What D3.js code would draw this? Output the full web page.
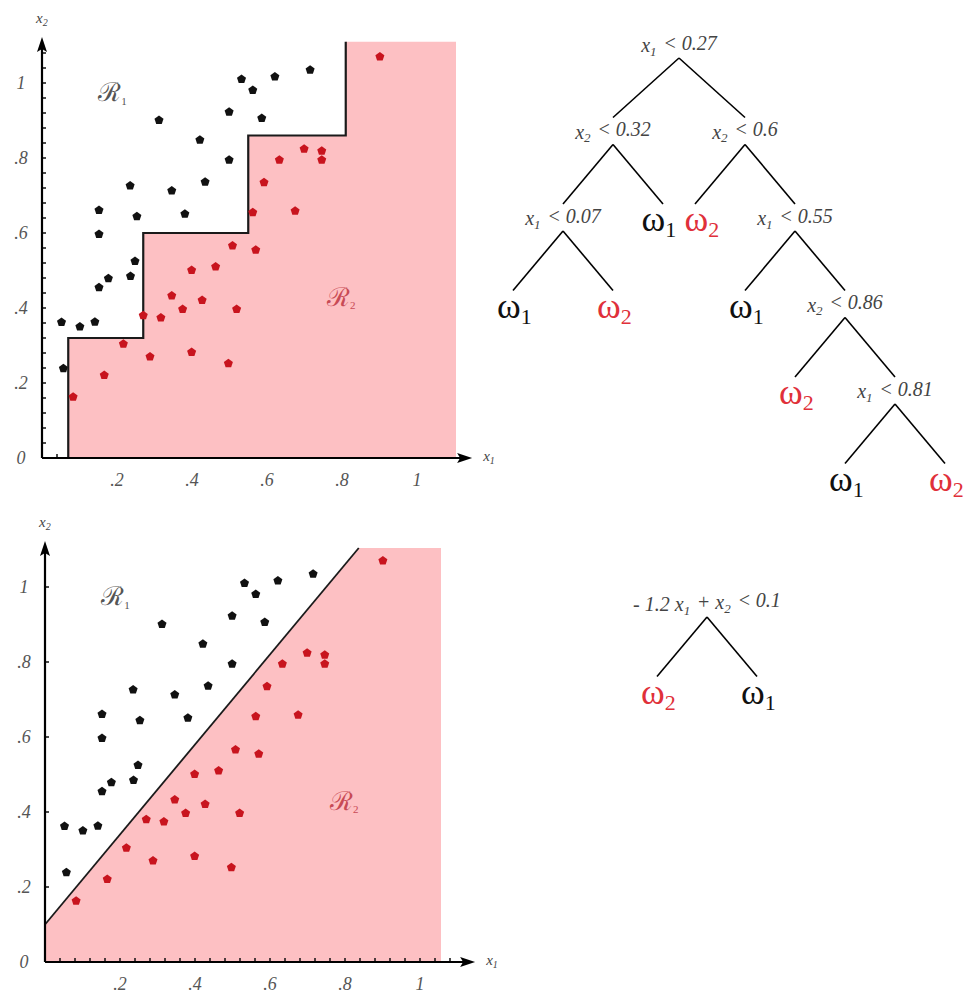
<!DOCTYPE html>
<html>
<head>
<meta charset="utf-8">
<script src="https://cdn.jsdelivr.net/npm/d3@7"></script>
<style>
  body { margin: 0; background: #fff; }
  text { font-family: "Liberation Serif", "DejaVu Serif", serif; }
  .tick-label { font-style: italic; fill: #555; font-size: 18px; }
  .axis-name { font-style: italic; fill: #444; font-size: 15px; }
  .node-label { font-style: italic; fill: #444; font-size: 20px; }
  .leaf { font-family: "Liberation Serif", "DejaVu Serif", serif; }
</style>
</head>
<body>
<div id="chart"></div>
<script>
// class omega_1 samples (x1, x2)
var omega1Points = [
  [0.052, 0.362], [0.057, 0.239], [0.101, 0.350], [0.141, 0.363],
  [0.152, 0.455], [0.177, 0.479], [0.236, 0.485], [0.248, 0.525],
  [0.152, 0.597], [0.152, 0.661], [0.235, 0.726], [0.253, 0.644],
  [0.312, 0.901], [0.346, 0.713], [0.381, 0.651], [0.421, 0.848],
  [0.435, 0.736], [0.499, 0.923], [0.499, 0.795], [0.532, 1.010],
  [0.562, 0.981], [0.621, 1.017], [0.715, 1.035], [0.586, 0.906]
];

// class omega_2 samples (x1, x2)
var omega2Points = [
  [0.901, 1.070], [0.699, 0.824], [0.746, 0.819], [0.746, 0.795],
  [0.633, 0.795], [0.592, 0.735], [0.562, 0.655], [0.675, 0.659],
  [0.508, 0.566], [0.570, 0.555], [0.463, 0.510], [0.399, 0.501],
  [0.346, 0.433], [0.427, 0.421], [0.375, 0.397], [0.270, 0.380],
  [0.317, 0.374], [0.519, 0.397], [0.217, 0.304], [0.288, 0.270],
  [0.399, 0.282], [0.497, 0.252], [0.166, 0.221], [0.083, 0.163]
];

// staircase boundary from the axis-parallel tree
var stepBoundary = [
  [0.07, 0], [0.07, 0.32], [0.27, 0.32], [0.27, 0.6], [0.55, 0.6],
  [0.55, 0.86], [0.81, 0.86], [0.81, 1.11]
];

// oblique split: a*x1 + b*x2 < c
var obliqueRule = { a: -1.2, b: 1, c: 0.1 };

var tickValues = [0, 0.2, 0.4, 0.6, 0.8, 1];
var tickLabels = ["0", ".2", ".4", ".6", ".8", "1"];
var minorTicks = d3.range(0, 28).map(function(i) { return i * 0.04; });

var stepTree = { f: "1", t: "0.27", kids: [
  { f: "2", t: "0.32", kids: [
    { f: "1", t: "0.07", kids: [{ cls: 1 }, { cls: 2 }] },
    { cls: 1 }
  ]},
  { f: "2", t: "0.6", kids: [
    { cls: 2 },
    { f: "1", t: "0.55", kids: [
      { cls: 1 },
      { f: "2", t: "0.86", kids: [
        { cls: 2 },
        { f: "1", t: "0.81", kids: [{ cls: 1 }, { cls: 2 }] }
      ]}
    ]}
  ]}
]};

var obliqueTree = { expr: [["- 1.2 x"], ["1", 1], [" + x"], ["2", 1], [" < 0.1"]],
  kids: [{ cls: 2 }, { cls: 1 }] };

var pink = "#fdc0c3",
    redDot = "#c8141e",
    redText = "#e0303a",
    unit = 375;

var svg = d3.select('#chart').append('svg')
    .attr('width', 972)
    .attr('height', 1000);

var pentagon = {
  draw: function(ctx, size) {
    var r = Math.sqrt(size) / 2;
    for (var i = 0; i < 5; i++) {
      var a = -Math.PI / 2 + i * 2 * Math.PI / 5;
      if (i === 0) ctx.moveTo(r * Math.cos(a), r * Math.sin(a));
      else ctx.lineTo(r * Math.cos(a), r * Math.sin(a));
    }
    ctx.closePath();
  }
};

function addParts(text, parts, subSize) {
  parts.forEach(function(p) {
    var t = text.append('tspan').text(p[0]);
    if (p[1]) {
      t.attr('font-size', subSize).attr('dy', '0.3em');
      text.append('tspan').attr('dy', '-0.3em').text('\u200a');
    }
  });
}

function panel(o) {
  var g = svg.append('g');
  var x = d3.scaleLinear().domain([0, 1]).range([o.ox, o.ox + unit]);
  var y = d3.scaleLinear().domain([0, 1]).range([o.oy, o.oy - unit]);

  function ticks() {
    g.selectAll('.xminor' + o.id).data(minorTicks.filter(function(d) { return d > 0 && d < 1.1; }))
      .enter().append('line')
        .attr('x1', function(d) { return x(d); })
        .attr('x2', function(d) { return x(d); })
        .attr('y1', o.oy).attr('y2', o.oy - 4)
        .attr('stroke', '#111').attr('stroke-width', 1.5);
  }

  if (!o.ticksOnTop) ticks();

  // shaded omega_2 region
  g.append('path')
      .attr('d', d3.line()(o.region.map(function(d) { return [x(d[0]), y(d[1])]; })) + 'Z')
      .attr('fill', pink);

  if (o.ticksOnTop) ticks();

  // y ticks
  var yt = o.yMinor ? minorTicks.filter(function(d) { return d > 0 && d < 1.1; }) : tickValues.slice(1);
  g.selectAll('.ytick').data(yt).enter().append('line')
      .attr('x1', o.ox).attr('x2', o.ox + 4)
      .attr('y1', function(d) { return y(d); })
      .attr('y2', function(d) { return y(d); })
      .attr('stroke', '#111').attr('stroke-width', 1.5);

  // boundary
  g.append('path')
      .attr('d', d3.line()(o.boundary.map(function(d) { return [x(d[0]), y(d[1])]; })))
      .attr('fill', 'none')
      .attr('stroke', '#1a1a1a')
      .attr('stroke-width', o.boundaryWidth);

  // samples
  var sym = d3.symbol().type(pentagon).size(90);
  g.selectAll('.w1').data(omega1Points).enter().append('path')
      .attr('d', sym)
      .attr('transform', function(d) { return 'translate(' + x(d[0]) + ',' + y(d[1]) + ')'; })
      .attr('fill', '#111');
  g.selectAll('.w2').data(omega2Points).enter().append('path')
      .attr('d', sym)
      .attr('transform', function(d) { return 'translate(' + x(d[0]) + ',' + y(d[1]) + ')'; })
      .attr('fill', redDot);

  // axes with arrows
  var xTip = x(1.147), yTip = y(1.123);
  g.append('line').attr('x1', o.ox).attr('x2', xTip - 6)
      .attr('y1', o.oy).attr('y2', o.oy)
      .attr('stroke', '#000').attr('stroke-width', 2.2);
  g.append('line').attr('x1', o.ox).attr('x2', o.ox)
      .attr('y1', o.oy).attr('y2', yTip + 6)
      .attr('stroke', '#000').attr('stroke-width', 2.2);
  g.append('path')
      .attr('d', 'M' + xTip + ',' + o.oy + 'l-15,-5l3,5l-3,5z')
      .attr('fill', '#000');
  g.append('path')
      .attr('d', 'M' + o.ox + ',' + yTip + 'l-5,15l5,-3l5,3z')
      .attr('fill', '#000');

  // tick labels
  g.selectAll('.xl').data(tickValues.slice(1)).enter().append('text')
      .attr('class', 'tick-label')
      .attr('x', function(d) { return x(d); })
      .attr('y', o.oy + 28)
      .attr('text-anchor', 'middle')
      .text(function(d, i) { return tickLabels[i + 1]; });
  g.selectAll('.yl').data(tickValues).enter().append('text')
      .attr('class', 'tick-label')
      .attr('x', o.ox - 21)
      .attr('y', function(d) { return y(d) + 6; })
      .attr('text-anchor', 'middle')
      .text(function(d, i) { return tickLabels[i]; });

  var xn = g.append('text').attr('class', 'axis-name')
      .attr('x', xTip + 11).attr('y', o.oy + 3);
  addParts(xn, [["x"], ["1", 1]], 10);
  var yn = g.append('text').attr('class', 'axis-name')
      .attr('x', o.ox - 6).attr('y', yTip - 14);
  addParts(yn, [["x"], ["2", 1]], 10);

  // region names
  var r1 = g.append('text')
      .attr('x', x(0.15)).attr('y', y(0.975) + 9)
      .attr('font-family', 'DejaVu Serif').attr('font-size', 26)
      .attr('fill', '#555');
  addParts(r1, [["\u211B"], ["1", 1]], 11);
  var r2 = g.append('text')
      .attr('x', x(0.76)).attr('y', y(0.43) + 9)
      .attr('font-family', 'DejaVu Serif').attr('font-size', 26)
      .attr('fill', '#c84a55');
  addParts(r2, [["\u211B"], ["2", 1]], 11);
}

function drawTree(data, rx, ry, rootSpread) {
  var g = svg.append('g');
  var root = d3.hierarchy(data, function(d) { return d.kids; });
  var step = 86.5;
  root.x = rx; root.y = ry;
  root.eachBefore(function(n) {
    if (!n.children) return;
    var s = n.depth === 0 ? rootSpread : 50;
    n.children.forEach(function(c, i) {
      c.x = n.x + (i === 0 ? -s : s);
      c.y = n.y + step;
    });
  });

  // edges
  g.selectAll('.edge').data(root.links()).enter().append('line')
      .attr('x1', function(d) { return d.source.x; })
      .attr('y1', function(d) { return d.source.y + 12; })
      .attr('x2', function(d) { return d.target.x; })
      .attr('y2', function(d) { return d.target.y - 15; })
      .attr('stroke', '#000')
      .attr('stroke-width', 1.6);

  // push apart crowded leaves
  var leaves = root.leaves();
  leaves.forEach(function(l) { l.lx = l.x; });
  for (var i = 0; i < leaves.length; i++) {
    for (var j = i + 1; j < leaves.length; j++) {
      var a = leaves[i], b = leaves[j];
      if (a.y === b.y && Math.abs(a.lx - b.lx) < 43) {
        var push = (43 - Math.abs(b.lx - a.lx)) / 2;
        a.lx -= push; b.lx += push;
      }
    }
  }

  root.descendants().forEach(function(n) {
    if (n.children) {
      var t = g.append('text').attr('class', 'node-label')
          .attr('x', n.x).attr('y', n.y + 6)
          .attr('text-anchor', 'middle');
      if (n.data.expr) addParts(t, n.data.expr, 13);
      else addParts(t, [["x"], [n.data.f, 1], [" < " + n.data.t]], 13);
    } else {
      var col = n.data.cls === 2 ? redText : '#111';
      var lt = g.append('text').attr('class', 'leaf')
          .attr('x', n.lx - 16).attr('y', n.y + 12)
          .attr('fill', col);
      lt.append('tspan').attr('font-size', 36).text('\u03C9');
      lt.append('tspan').attr('font-size', 22).attr('dy', 6).text(n.data.cls);
    }
  });
}

panel({ id: 'a', ox: 42, oy: 458, yMinor: true, ticksOnTop: false,
  region: [[0.07, 0], [0.07, 0.32], [0.27, 0.32], [0.27, 0.6], [0.55, 0.6],
           [0.55, 0.86], [0.81, 0.86], [0.81, 1.11], [1.104, 1.11], [1.104, 0]],
  boundary: stepBoundary, boundaryWidth: 2.2 });

var topY = 1.104,
    lineEnd = (obliqueRule.c - obliqueRule.b * topY) / obliqueRule.a,
    lineStart = obliqueRule.c / obliqueRule.b;

panel({ id: 'b', ox: 45, oy: 962, yMinor: false, ticksOnTop: true,
  region: [[0, 0], [0, lineStart], [lineEnd, topY], [1.056, topY], [1.056, 0]],
  boundary: [[0, lineStart], [lineEnd, topY]], boundaryWidth: 1.8 });

drawTree(stepTree, 679, 46, 66);
drawTree(obliqueTree, 707, 605, 50);
</script>
</body>
</html>
